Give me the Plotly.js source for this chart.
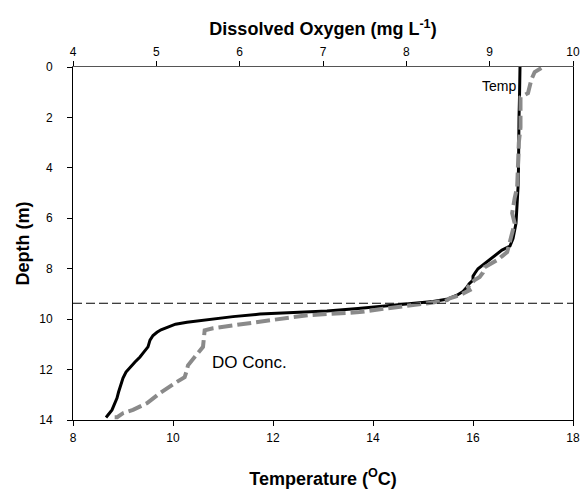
<!DOCTYPE html>
<html>
<head>
<meta charset="utf-8">
<script src="https://cdn.plot.ly/plotly-3.0.1.min.js"></script>
<style>
html,body{margin:0;padding:0;background:#fff;}
#chart{width:588px;height:491px;}
</style>
</head>
<body>
<div id="chart"></div>
<script>
// Temperature profile (black, bottom axis)
const tempDepth = [0, 0.5, 1.2, 2.0, 3.0, 4.0, 4.8, 5.5, 6.2, 6.8, 7.1, 7.26, 7.5, 7.74, 8.0, 8.17, 8.3, 8.45, 8.6, 8.73, 8.9, 9.05, 9.2, 9.3, 9.4, 9.48, 9.58, 9.68, 9.75, 9.8, 9.9, 9.96, 10.05, 10.12, 10.2, 10.32, 10.42, 10.52, 10.65, 10.83, 11.0, 11.1, 11.3, 11.5, 11.7, 11.9, 12.1, 12.34, 12.5, 12.7, 12.9, 13.13, 13.4, 13.6, 13.75, 13.9];
const tempVals = [16.94, 16.94, 16.93, 16.92, 16.92, 16.91, 16.9, 16.88, 16.86, 16.8, 16.74, 16.58, 16.42, 16.28, 16.1, 16.04, 16.0, 16.0, 15.92, 15.88, 15.8, 15.68, 15.5, 15.2, 14.7, 14.34, 13.7, 13.08, 12.4, 11.74, 11.2, 10.94, 10.5, 10.28, 10.05, 9.88, 9.76, 9.68, 9.6, 9.54, 9.52, 9.5, 9.42, 9.34, 9.24, 9.14, 9.06, 9.0, 8.97, 8.94, 8.91, 8.88, 8.82, 8.78, 8.72, 8.66];

// Dissolved oxygen profile (grey dashed, top axis)
const doDepth = [0.04, 0.2, 0.5, 0.8, 1.04, 1.2, 1.6, 2.0, 2.4, 3.0, 3.7, 4.2, 4.76, 5.2, 5.8, 6.2, 6.6, 6.94, 7.34, 7.5, 7.66, 7.94, 8.15, 8.33, 8.45, 8.6, 8.73, 8.85, 9.05, 9.17, 9.25, 9.35, 9.44, 9.58, 9.72, 9.84, 9.92, 10.1, 10.24, 10.36, 10.44, 10.8, 11.1, 11.5, 11.83, 12.1, 12.3, 12.54, 12.94, 13.33, 13.6, 13.73, 13.89, 13.89];
const doVals = [9.62, 9.54, 9.5, 9.48, 9.46, 9.37, 9.37, 9.38, 9.37, 9.35, 9.34, 9.33, 9.33, 9.3, 9.27, 9.3, 9.27, 9.24, 9.21, 9.15, 9.09, 8.94, 8.92, 8.88, 8.82, 8.77, 8.74, 8.76, 8.64, 8.52, 8.49, 8.3, 8.04, 7.75, 7.44, 6.84, 6.64, 6.24, 5.92, 5.68, 5.58, 5.57, 5.56, 5.46, 5.38, 5.36, 5.34, 5.22, 5.04, 4.89, 4.72, 4.6, 4.53, 4.5];

const thermoclineDepth = 9.37;
const tempTicks = [8, 10, 12, 14, 16, 18];
const doTicks = [4, 5, 6, 7, 8, 9, 10];
const depthTicks = [0, 2, 4, 6, 8, 10, 12, 14];

const FONT = 'Liberation Sans, Arial, sans-serif';

const traces = [
  {x: tempVals, y: tempDepth, xaxis: 'x', yaxis: 'y', type: 'scatter', mode: 'lines',
   line: {color: '#000000', width: 3}, name: 'Temp', hoverinfo: 'skip'},
  {x: doVals, y: doDepth, xaxis: 'x2', yaxis: 'y', type: 'scatter', mode: 'lines',
   line: {color: '#8a8a8a', width: 4, dash: '14px,5px'}, name: 'DO Conc.', hoverinfo: 'skip'}
];

const layout = {
  width: 588, height: 491,
  margin: {l: 73, r: 15, t: 67, b: 71},
  paper_bgcolor: '#ffffff', plot_bgcolor: '#ffffff',
  showlegend: false,
  font: {family: FONT, size: 12, color: '#000'},
  xaxis: {
    range: [8, 18], tickvals: tempTicks, ticks: 'outside', ticklen: 5, tickcolor: '#000',
    ticklabelstandoff: 2,
    showline: true, linecolor: '#000', linewidth: 1, showgrid: false, zeroline: false,
    tickfont: {family: FONT, size: 12, color: '#000'},
    title: {text: 'Temperature (<sup>O</sup>C)', font: {family: FONT, size: 18, color: '#000', weight: 'bold'}, standoff: 27}
  },
  xaxis2: {
    range: [4, 10], tickvals: doTicks, overlaying: 'x', side: 'top', anchor: 'y',
    ticks: 'outside', ticklen: 5, tickcolor: '#000',
    showline: true, linecolor: '#555', linewidth: 1, showgrid: false, zeroline: false,
    tickfont: {family: FONT, size: 12, color: '#000'},
    title: {text: 'Dissolved Oxygen (mg L<sup>-1</sup>)', font: {family: FONT, size: 18, color: '#000', weight: 'bold'}, standoff: 4}
  },
  yaxis: {
    range: [14, 0], tickvals: depthTicks, ticks: 'outside', ticklen: 5, tickcolor: '#000',
    ticklabelstandoff: 12,
    showline: true, linecolor: '#000', linewidth: 1, mirror: true, showgrid: false, zeroline: false,
    tickfont: {family: FONT, size: 12, color: '#000'},
    title: {text: 'Depth (m)', font: {family: FONT, size: 18, color: '#000', weight: 'bold'}, standoff: 4}
  },
  shapes: [
    {type: 'line', xref: 'paper', x0: 0, x1: 1, yref: 'y', y0: thermoclineDepth, y1: thermoclineDepth,
     line: {color: '#000', width: 1, dash: '9px,4px'}}
  ],
  annotations: [
    {x: 16.51, y: 0.75, xref: 'x', yref: 'y', text: 'Temp', showarrow: false,
     font: {family: FONT, size: 14, color: '#000'}},
    {x: 11.53, y: 11.7, xref: 'x', yref: 'y', text: 'DO Conc.', showarrow: false,
     font: {family: FONT, size: 17, color: '#000'}}
  ]
};

Plotly.newPlot('chart', traces, layout, {staticPlot: true, displayModeBar: false});
</script>
</body>
</html>
